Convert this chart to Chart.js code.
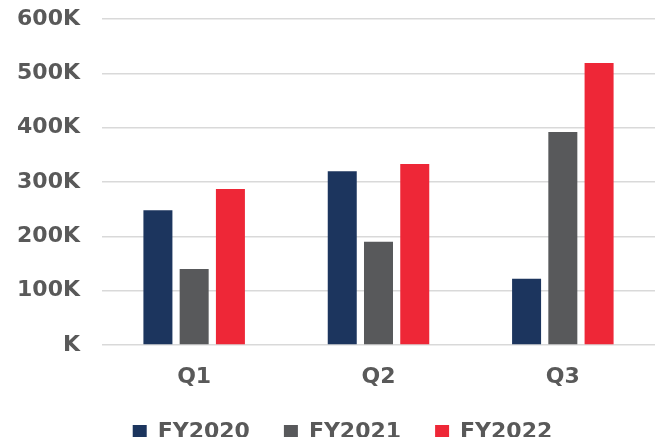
<!DOCTYPE html>
<html>
<head>
<meta charset="utf-8">
<script src="https://cdn.jsdelivr.net/npm/chart.js@4/dist/chart.umd.min.js"></script>
<style>
  html, body { margin: 0; padding: 0; background: #fff; }
  #wrap { width: 659px; height: 440px; }
</style>
</head>
<body>
<div id="wrap"><canvas id="chart"></canvas></div>
<script>
// dados do gráfico
const categorias = ['Q1', 'Q2', 'Q3'];
const series = ['FY2020', 'FY2021', 'FY2022'];
const fy2020 = [248000, 320000, 122000];
const fy2021 = [140000, 190000, 392000];
const fy2022 = [287000, 333000, 519000];
const cores = ['#1c355e', '#58595b', '#ee2737'];

const fonte = { family: '"DejaVu Sans", sans-serif', weight: 'bold', size: 22 };
const corTexto = '#595959';

// legenda: altura fixa e leve deslocamento, mantendo o espaçamento entre itens
const ajusteLegenda = {
  id: 'ajusteLegenda',
  beforeUpdate(chart) {
    const lg = chart.legend;
    if (!lg || lg._ajustada) return;
    lg._ajustada = true;
    const fitOrig = lg.fit;
    lg.fit = function () {
      fitOrig.call(this);
      this.height = 50;
    };
    const drawOrig = lg.draw;
    lg.draw = function () {
      const ctx = this.ctx;
      ctx.save();
      ctx.translate(8, -3);
      drawOrig.apply(this, arguments);
      ctx.restore();
    };
  }
};

new Chart(document.getElementById('chart'), {
  type: 'bar',
  data: {
    labels: categorias,
    datasets: [fy2020, fy2021, fy2022].map((valores, i) => ({
      label: series[i],
      data: valores,
      backgroundColor: cores[i],
      categoryPercentage: 0.59,
      barPercentage: 0.8
    }))
  },
  options: {
    responsive: true,
    maintainAspectRatio: false,
    animation: false,
    layout: { padding: { top: 0, right: 4, left: 14, bottom: 0 } },
    plugins: {
      legend: {
        position: 'bottom',
        labels: {
          color: corTexto,
          font: fonte,
          boxWidth: 14,
          boxHeight: 14,
          padding: 34
        }
      },
      tooltip: { enabled: false }
    },
    scales: {
      x: {
        grid: { display: false, drawTicks: false },
        border: { display: false },
        ticks: { color: corTexto, font: fonte, padding: 19 },
        afterFit: s => { s.height = 45; }
      },
      y: {
        min: 0,
        max: 600000,
        grid: { color: '#d9d9d9', lineWidth: 1.5, drawTicks: false },
        border: { display: false },
        ticks: {
          stepSize: 100000,
          color: corTexto,
          font: fonte,
          padding: 22,
          callback: v => (v === 0 ? '' : v / 1000) + 'K'
        },
        afterFit: s => {
          s.width = 88;
          s.paddingTop = 19;
          s.paddingBottom = 13;
        }
      }
    }
  },
  plugins: [ajusteLegenda]
});
</script>
</body>
</html>
